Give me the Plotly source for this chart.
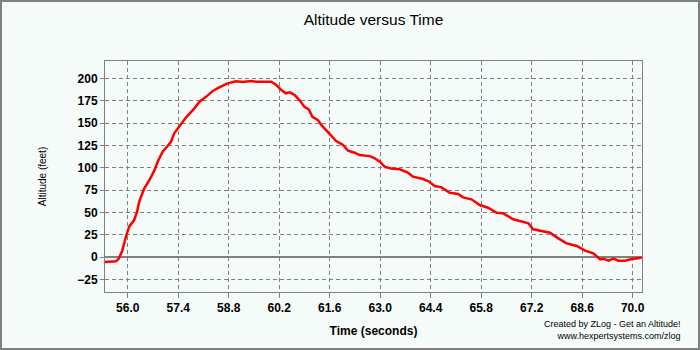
import plotly.graph_objects as go

time_s = [55.37, 55.67, 55.74, 55.84, 55.95, 56.04, 56.18, 56.26, 56.32, 56.46, 56.60, 56.74,
          56.83, 56.97, 57.10, 57.20, 57.29, 57.43, 57.62, 57.85, 57.99, 58.22, 58.36, 58.54,
          58.77, 59.00, 59.19, 59.42, 59.56, 59.98, 60.12, 60.26, 60.38, 60.49, 60.63, 60.76,
          60.90, 61.02, 61.12, 61.27, 61.37, 61.50, 61.64, 61.78, 61.97, 62.11, 62.29, 62.43,
          62.71, 62.85, 62.99, 63.13, 63.31, 63.54, 63.77, 63.91, 64.19, 64.36, 64.51, 64.70,
          64.93, 65.16, 65.30, 65.53, 65.76, 65.99, 66.23, 66.41, 66.69, 66.87, 67.11, 67.24,
          67.43, 67.71, 67.94, 68.17, 68.45, 68.68, 68.91, 69.10, 69.19, 69.33, 69.47, 69.60,
          69.79, 69.98, 70.25]
altitude_ft = [-5.5, -4.9, -2.6, 6.0, 22.7, 34.0, 41.4, 50.7, 62.0, 77.0, 86.0, 97.0,
               106.7, 118.0, 124.0, 129.0, 138.5, 146.0, 156.4, 166.5, 174.0, 181.0, 186.0, 190.0,
               194.5, 196.7, 196.0, 197.0, 196.3, 196.3, 192.6, 187.0, 183.3, 184.4, 181.4, 175.8,
               168.3, 165.4, 157.0, 153.4, 147.8, 142.0, 135.5, 129.9, 125.4, 119.0, 116.8, 114.2,
               113.0, 110.5, 106.7, 101.0, 99.0, 98.2, 94.4, 90.0, 87.3, 84.3, 79.5, 78.0,
               72.0, 70.5, 66.8, 64.6, 58.2, 55.2, 49.6, 48.9, 42.2, 40.3, 37.7, 31.0,
               29.5, 27.2, 20.9, 15.3, 12.3, 7.1, 4.1, -2.6, -1.9, -4.1, -1.9, -4.1,
               -4.1, -2.2, -0.8]

x_ticks = [56.0, 57.4, 58.8, 60.2, 61.6, 63.0, 64.4, 65.8, 67.2, 68.6, 70.0]
y_ticks = [-25, 0, 25, 50, 75, 100, 125, 150, 175, 200]

bg = "#F5FBF8"
grid = "#808080"
font = "Liberation Sans, Arial, sans-serif"

fig = go.Figure()
fig.add_trace(go.Scatter(x=time_s, y=altitude_ft, mode="lines",
                         line=dict(color="#FF0000", width=2.5), hoverinfo="skip"))

L, R, T, B = 105, 58, 61, 58
W, H = 700, 350
pw, ph = W - L - R, H - T - B

fig.update_layout(
    width=W, height=H,
    margin=dict(l=L, r=R, t=T, b=B, autoexpand=False),
    paper_bgcolor=bg, plot_bgcolor=bg,
    showlegend=False,
    font=dict(family=font, color="#000000"),
    title=dict(text="Altitude versus Time", x=0.5, xref="paper", xanchor="center",
               y=1 - 20 / H, yanchor="middle", font=dict(size=15.5, family=font)),
    xaxis=dict(range=[55.37, 70.26], tickvals=x_ticks, ticktext=[f"{v:.1f}" for v in x_ticks],
               showgrid=True, gridcolor=grid, griddash="4px,3px", gridwidth=1,
               showline=True, linecolor=grid, linewidth=1, mirror=True,
               ticks="outside", ticklen=5, tickcolor=grid,
               tickfont=dict(size=12, family=font, weight="bold"),
               zeroline=False, automargin=False,
               title=dict(text="Time (seconds)", standoff=12,
                          font=dict(size=12, family=font, weight="bold"))),
    yaxis=dict(range=[-39.2, 219.5], tickvals=y_ticks,
               showgrid=True, gridcolor=grid, griddash="4px,3px", gridwidth=1,
               showline=True, linecolor=grid, linewidth=1, mirror=True,
               ticks="outside", ticklen=4, tickcolor=grid,
               tickfont=dict(size=12, family=font, weight="bold"),
               zeroline=True, zerolinecolor=grid, zerolinewidth=1.5, automargin=False,
               title=dict(text="Altitude (feet)", standoff=28,
                          font=dict(size=10, family=font))),
)

# outer border around whole image
fig.add_shape(type="rect", xref="paper", yref="paper",
              x0=(-L + 1) / pw, x1=(W - L - 1) / pw,
              y0=(-B + 1) / ph, y1=(H - B - 1) / ph,
              line=dict(color="#808080", width=2), layer="below")

fig.add_annotation(text="Created by ZLog - Get an Altitude!<br>www.hexpertsystems.com/zlog",
                   xref="paper", yref="paper", x=(683 - L) / pw, y=-(343 - T - ph) / ph,
                   xanchor="right", yanchor="bottom", align="right", showarrow=False,
                   font=dict(size=9, family=font, color="#000000"))

fig.write_html("out.html", config={"displayModeBar": False},
               post_script="document.body.style.margin='0';document.body.style.overflow='hidden';")
